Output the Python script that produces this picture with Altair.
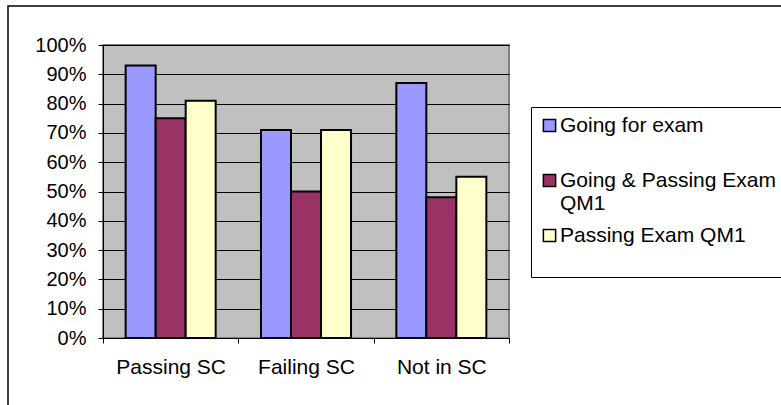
import altair as alt
import pandas as pd

# Share of students per study-centre group
categories = ["Passing SC", "Failing SC", "Not in SC"]
series = ["Going for exam", "Going & Passing Exam QM1", "Passing Exam QM1"]
going_for_exam = [93, 71, 87]
going_and_passing = [75, 50, 48]
passing_exam = [81, 71, 55]
tick_values = [i / 10 for i in range(11)]
colors = ["#9999FF", "#993366", "#FFFFCC"]

rows = []
for name, vals in zip(series, [going_for_exam, going_and_passing, passing_exam]):
    for cat, v in zip(categories, vals):
        rows.append({"category": cat, "series": name, "value": v / 100})
df = pd.DataFrame(rows)

W, H = 406, 293
FONT = "Liberation Sans"

# Legend entries are laid out on two text lines each, the long one wrapped
legend_lines = (
    "datum.label == 'Going & Passing Exam QM1' ? ['Going & Passing Exam', 'QM1'] "
    ": [datum.label, '']"
)

bars = alt.Chart(df).mark_bar(stroke="black", strokeWidth=2).encode(
    x=alt.X(
        "category:N",
        sort=categories,
        scale=alt.Scale(paddingInner=0, paddingOuter=0),
        axis=alt.Axis(
            title=None,
            labelAngle=0,
            tickBand="extent",
            tickSize=5,
            tickColor="black",
            domainColor="black",
            labelFontSize=21,
            labelPadding=13,
            labelColor="black",
        ),
    ),
    xOffset=alt.XOffset(
        "series:N", sort=series, scale=alt.Scale(paddingInner=0, paddingOuter=0.755)
    ),
    y=alt.Y(
        "value:Q",
        scale=alt.Scale(domain=[0, 1], nice=False),
        axis=alt.Axis(
            title=None,
            format=".0%",
            values=tick_values,
            grid=True,
            gridColor="black",
            gridWidth=1,
            tickSize=5,
            tickColor="black",
            domainColor="black",
            labelFontSize=20,
            labelPadding=12,
            labelColor="black",
        ),
    ),
    color=alt.Color(
        "series:N",
        sort=series,
        scale=alt.Scale(domain=series, range=colors),
        legend=alt.Legend(
            title=None,
            orient="none",
            legendX=428,
            legendY=62,
            direction="vertical",
            fillColor="white",
            strokeColor="black",
            padding=8,
            symbolType="square",
            symbolSize=150,
            symbolStrokeColor="black",
            symbolStrokeWidth=1.5,
            labelFontSize=21,
            labelColor="black",
            labelLimit=400,
            labelOffset=0,
            rowPadding=10,
            labelExpr=legend_lines,
        ),
    ),
)

# Border around the whole chart object
frame = alt.Chart(alt.Data(values=[{}])).mark_rect(
    filled=False, stroke="black", strokeWidth=1.5
).encode(
    x=alt.value(-95), x2=alt.value(800), y=alt.value(-39), y2=alt.value(420)
)

chart = alt.layer(frame, bars).properties(
    width=W,
    height=H,
    autosize=alt.AutoSizeParams(type="none"),
    padding={"left": 103, "top": 45, "right": 272, "bottom": 67},
).configure(
    font=FONT,
).configure_view(
    fill="#C0C0C0", stroke="#808080", strokeWidth=2
)

chart.save("out.html", embed_options={"renderer": "svg", "actions": False})
